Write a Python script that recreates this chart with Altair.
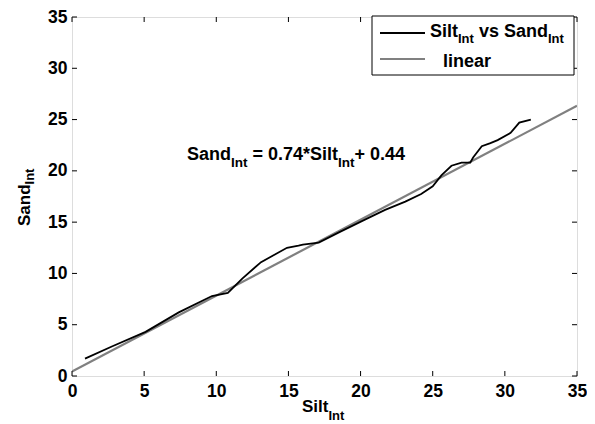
import altair as alt
import pandas as pd

# data
silt = [0.9, 2.8, 5.1, 7.4, 9.7, 10.8, 11.8, 13.1, 14.0, 14.9, 15.7, 16.0, 17.1, 18.5,
        20.3, 21.7, 23.1, 24.2, 25.0, 25.6, 26.3, 27.0, 27.6, 27.8, 28.4, 29.0, 29.5,
        30.4, 31.0, 31.8]
sand = [1.7, 2.9, 4.3, 6.2, 7.8, 8.1, 9.5, 11.1, 11.8, 12.5, 12.7, 12.8, 13.0, 14.0,
        15.25, 16.2, 17.0, 17.75, 18.5, 19.55, 20.5, 20.8, 20.8, 21.3, 22.4, 22.7, 23.0,
        23.7, 24.7, 25.0]
fit_x = [0, 35]
fit_y = [0.44, 26.34]
ticks = [0, 5, 10, 15, 20, 25, 30, 35]

W, H = 505, 359
FONT = "Liberation Sans"
OX, OY = 72, 17

xs = alt.Scale(domain=[0, 35], nice=False, zero=False)
ys = alt.Scale(domain=[0, 35], nice=False, zero=False)

df = pd.DataFrame({"silt": silt, "sand": sand})
dfit = pd.DataFrame({"x": fit_x, "y": fit_y})
dt = pd.DataFrame({"t": ticks})

lab = dict(labelFont=FONT, labelFontSize=17.5, labelFontWeight="bold",
           labelColor="black", labelFlush=False, ticks=False, domain=False, grid=False,
           values=ticks)
base_axes = alt.Chart(dt).mark_point(opacity=0).encode(
    x=alt.X("t:Q", scale=xs, title=None, axis=alt.Axis(labelPadding=6, **lab)),
    y=alt.Y("t:Q", scale=ys, title=None, axis=alt.Axis(labelPadding=5, **lab)),
)

tk = dict(color="black", strokeWidth=1)
tb = alt.Chart(dt).mark_rule(**tk).encode(x=alt.X("t:Q", scale=xs), y=alt.value(H), y2=alt.value(H - 5))
tt = alt.Chart(dt).mark_rule(**tk).encode(x=alt.X("t:Q", scale=xs), y=alt.value(0), y2=alt.value(5))
tl = alt.Chart(dt).mark_rule(**tk).encode(y=alt.Y("t:Q", scale=ys), x=alt.value(0), x2=alt.value(5))
tr = alt.Chart(dt).mark_rule(**tk).encode(y=alt.Y("t:Q", scale=ys), x=alt.value(W), x2=alt.value(W - 5))

fit = alt.Chart(dfit).mark_line(color="#808080", strokeWidth=2.2, clip=True).encode(
    x=alt.X("x:Q", scale=xs), y=alt.Y("y:Q", scale=ys))
data_line = alt.Chart(df).mark_line(color="black", strokeWidth=1.8).encode(
    x=alt.X("silt:Q", scale=xs), y=alt.Y("sand:Q", scale=ys))

# Arial-bold (Liberation Sans Bold) advance widths, in em
AW = {"S": .667, "a": .556, "n": .611, "d": .611, "i": .278, "l": .278, "t": .333,
      "I": .278, "v": .556, "s": .556, " ": .278, "=": .584, "0": .556, ".": .278,
      "7": .556, "4": .556, "*": .389, "+": .584, "e": .556, "r": .389}


def width(s, size):
    return sum(AW.get(c, .556) for c in s) * size


texts = []


def txt(t, x, y, size, angle=0):
    mk = dict(font=FONT, fontWeight="bold", fontSize=size, align="left",
              baseline="alphabetic", color="black")
    if angle:
        mk["angle"] = angle
    texts.append(alt.Chart(pd.DataFrame({"t": [t]})).mark_text(**mk).encode(
        text="t:N", x=alt.value(x - OX), y=alt.value(y - OY)))


def chain(parts, x, y, main=18, sub=13, dy=7):
    for t, is_sub in parts:
        s = sub if is_sub else main
        lead = len(t) - len(t.lstrip(" "))
        x += lead * AW[" "] * s
        t = t.lstrip(" ")
        txt(t, x, y + (dy if is_sub else 0), s)
        x += width(t, s)


# x title
chain([("Silt", False), ("Int", True)], 302, 412, main=17, sub=13, dy=8)
# equation
chain([("Sand", False), ("Int", True), (" = 0.74*Silt", False), ("Int", True),
       ("+ 0.44", False)], 187, 160, main=18, sub=13.5, dy=7)
# legend texts
chain([("Silt", False), ("Int", True), (" vs Sand", False), ("Int", True)], 430, 37,
      main=18, sub=13, dy=6)
txt("linear", 443, 67, 18)

# y title rotated (reads bottom to top)
txt("Sand", 30, 226, 17, 270)
txt("Int", 34, 226 - width("Sand", 17), 13, 270)

# legend box and samples
legend_box = alt.Chart(pd.DataFrame({"a": [0]})).mark_rect(
    fill="white", stroke="black", strokeWidth=1).encode(
    x=alt.value(372 - OX), x2=alt.value(574 - OX), y=alt.value(16 - OY), y2=alt.value(75 - OY))
leg1 = alt.Chart(pd.DataFrame({"a": [0]})).mark_rule(color="black", strokeWidth=1.8).encode(
    x=alt.value(380 - OX), x2=alt.value(425 - OX), y=alt.value(33 - OY))
leg2 = alt.Chart(pd.DataFrame({"a": [0]})).mark_rule(color="#808080", strokeWidth=2.2).encode(
    x=alt.value(380 - OX), x2=alt.value(425 - OX), y=alt.value(59 - OY))

chart = alt.layer(base_axes, fit, data_line, tb, tt, tl, tr, legend_box, leg1, leg2, *texts).properties(
    width=W, height=H,
    autosize=alt.AutoSizeParams(type="none"),
    padding={"left": OX - 8, "top": OY - 8, "right": 10, "bottom": 48},
).configure_view(stroke="black", strokeWidth=1.2).configure(background="white")

chart.save("out.html", embed_options={"renderer": "svg", "actions": False})
